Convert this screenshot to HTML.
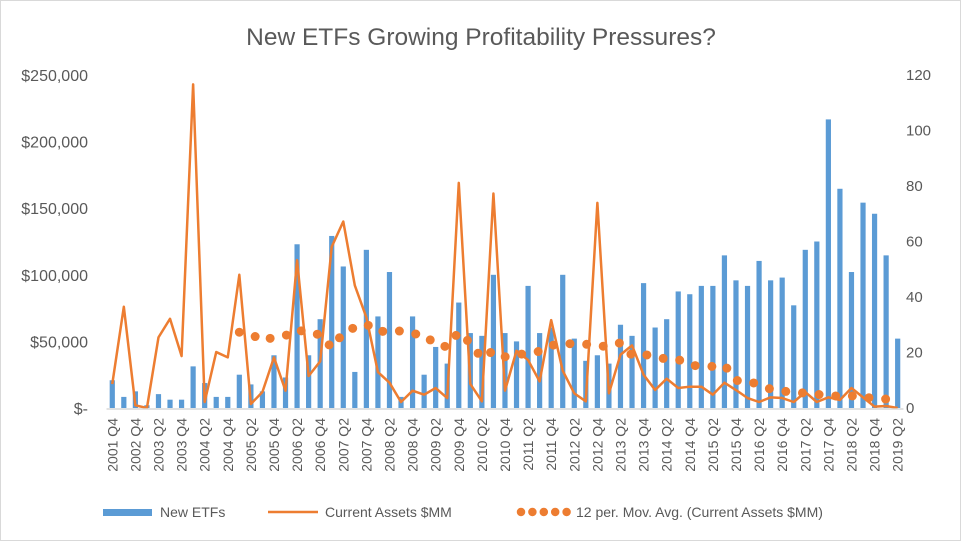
<!DOCTYPE html>
<html><head><meta charset="utf-8"><style>
body{margin:0;background:#fff;}
svg{display:block;font-family:"Liberation Sans",sans-serif;}
</style></head><body>
<svg id="chart" width="961" height="541">
<rect x="0.5" y="0.5" width="960" height="540" fill="#fff" stroke="#d9d9d9"/>
<text x="481" y="45" text-anchor="middle" font-size="24.5" fill="#595959">New ETFs Growing Profitability Pressures?</text>
<g id="bars"></g><g id="lines"></g><g id="axes"></g>
<g>
<rect x="103" y="509" width="49" height="7" fill="#5B9BD5"/>
<text x="160" y="517" font-size="14" fill="#595959">New ETFs</text>
<line x1="268" y1="512" x2="318" y2="512" stroke="#ED7D31" stroke-width="2.5"/>
<text x="325" y="517" font-size="14" fill="#595959">Current Assets $MM</text>
<line x1="521" y1="512" x2="567" y2="512" stroke="#ED7D31" stroke-width="8.5" stroke-linecap="round" stroke-dasharray="0 11.4"/>
<text x="576" y="517" font-size="14" fill="#595959">12 per. Mov. Avg. (Current Assets $MM)</text>
</g>
</svg>
<script>
const tickLabels = ["2001 Q4","2002 Q4","2003 Q2","2003 Q4","2004 Q2","2004 Q4","2005 Q2","2005 Q4","2006 Q2","2006 Q4","2007 Q2","2007 Q4","2008 Q2","2008 Q4","2009 Q2","2009 Q4","2010 Q2","2010 Q4","2011 Q2","2011 Q4","2012 Q2","2012 Q4","2013 Q2","2013 Q4","2014 Q2","2014 Q4","2015 Q2","2015 Q4","2016 Q2","2016 Q4","2017 Q2","2017 Q4","2018 Q2","2018 Q4","2019 Q2"];
const newEtfs = [10,4,6,1,5,3,3,15,9,4,4,12,8.5,6,19,11,59,19,32,62,51,13,57,33,49,4,33,12,22,16,38,27,26,48,27,24,44,27,29,48,25,17,19,16,30,26,45,29,32,42,41,44,44,55,46,44,53,46,47,37,57,60,104,79,49,74,70,55,25];
const assets = [18,76,2,0,53,67,39,243,4.5,42,38,100,3,12,38,13,111,24,35,121,140,92,68,27,19,4.5,13,10,15,7.5,169,18,5,161,13,43,36,20,66,28,11,5,154,11,40,47,25,13.5,22,15,16,16,10,19,13.5,7.5,4.5,8,7.5,4.5,12,4.5,8,6,15,8,1,1.5,0];
const leftTicks = ["$-","$50,000","$100,000","$150,000","$200,000","$250,000"];
const rightTicks = ["0","20","40","60","80","100","120"];

const NS="http://www.w3.org/2000/svg";
const x0=106.5, step=11.55, yBase=408, yTop=75;
const xc=i=>x0+step*(i+0.5);
const yL=v=>yBase-(v/250)*(yBase-yTop);
const yR=v=>yBase-(v/120)*(yBase-yTop);
function mk(t,a,p){const e=document.createElementNS(NS,t);for(const k in a)e.setAttribute(k,a[k]);p.appendChild(e);return e;}
const bars=document.getElementById('bars'),lines=document.getElementById('lines'),axes=document.getElementById('axes');
newEtfs.forEach((v,i)=>{
  const r=mk('rect',{x:xc(i)-2.6,y:yR(v),width:5.2,height:yBase-yR(v),fill:'#5B9BD5'},bars);
  
  
});
const pl=mk('polyline',{points:assets.map((v,i)=>xc(i)+','+yL(v)).join(' '),fill:'none',stroke:'#ED7D31','stroke-width':2.5,'stroke-linejoin':'round'},lines);


const ma=[];
for(let i=11;i<assets.length;i++){let s=0;for(let j=i-11;j<=i;j++)s+=assets[j];ma.push(xc(i)+','+yL(s/12));}
const mp=mk('polyline',{points:ma.join(' '),fill:'none',stroke:'#ED7D31','stroke-width':9,'stroke-linecap':'round','stroke-dasharray':'0 16.7'},lines);


const ax=mk('line',{x1:x0,y1:yBase+1,x2:x0+step*assets.length,y2:yBase+1,stroke:'#d9d9d9','stroke-width':1.5},axes);


leftTicks.forEach((t,i)=>{
  const e=mk('text',{x:88,y:yL(i*50)+6,'text-anchor':'end','font-size':16,fill:'#595959'},axes);e.textContent=t;
  
  
});
rightTicks.forEach((t,i)=>{
  const e=mk('text',{x:906,y:yR(i*20)+5,'font-size':15,fill:'#595959'},axes);e.textContent=t;
  
  
});
tickLabels.forEach((t,k)=>{
  const x=xc(k*2)+5, y=418;
  const e=mk('text',{x:x,y:y,'text-anchor':'end','font-size':14,fill:'#595959',transform:'rotate(-90 '+x+' '+y+')'},axes);e.textContent=t;
  
  
});
</script>
</body></html>
